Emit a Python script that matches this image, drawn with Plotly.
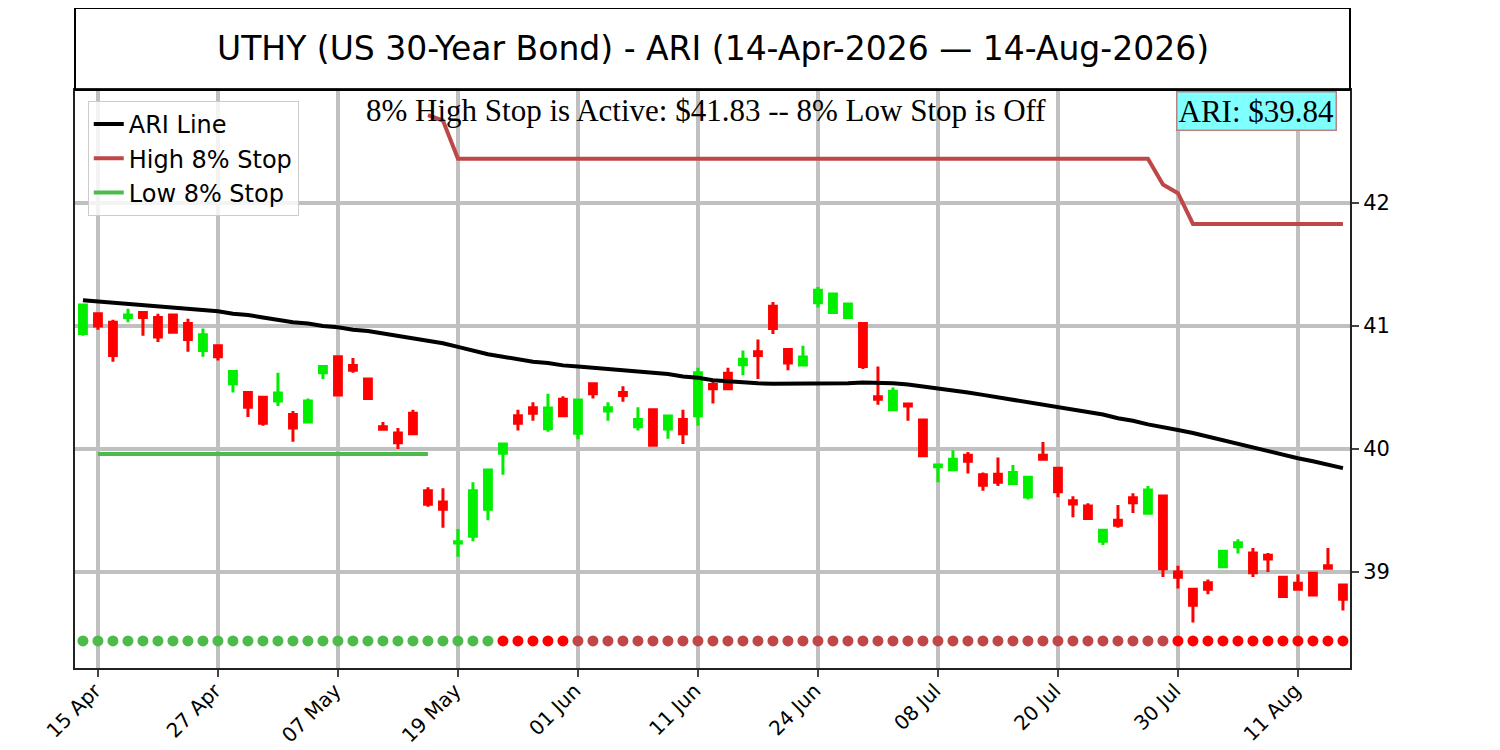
import pandas as pd
import plotly.graph_objects as go

# Trading days shown on the chart
dates = [
    "2026-04-14", "2026-04-15", "2026-04-16", "2026-04-17", "2026-04-20", "2026-04-21", "2026-04-22", "2026-04-23", "2026-04-24", "2026-04-27",
    "2026-04-28", "2026-04-29", "2026-04-30", "2026-05-01", "2026-05-04", "2026-05-05", "2026-05-06", "2026-05-07", "2026-05-08", "2026-05-11",
    "2026-05-12", "2026-05-13", "2026-05-14", "2026-05-15", "2026-05-18", "2026-05-19", "2026-05-20", "2026-05-21", "2026-05-22", "2026-05-26",
    "2026-05-27", "2026-05-28", "2026-05-29", "2026-06-01", "2026-06-02", "2026-06-03", "2026-06-04", "2026-06-05", "2026-06-08", "2026-06-09",
    "2026-06-10", "2026-06-11", "2026-06-12", "2026-06-15", "2026-06-16", "2026-06-17", "2026-06-18", "2026-06-22", "2026-06-23", "2026-06-24",
    "2026-06-25", "2026-06-26", "2026-06-29", "2026-06-30", "2026-07-01", "2026-07-06", "2026-07-07", "2026-07-08", "2026-07-09", "2026-07-10",
    "2026-07-13", "2026-07-14", "2026-07-15", "2026-07-16", "2026-07-17", "2026-07-20", "2026-07-21", "2026-07-22", "2026-07-23", "2026-07-24",
    "2026-07-27", "2026-07-28", "2026-07-29", "2026-07-30", "2026-07-31", "2026-08-03", "2026-08-04", "2026-08-05", "2026-08-06", "2026-08-07",
    "2026-08-10", "2026-08-11", "2026-08-12", "2026-08-13", "2026-08-14",
]

opens = [
    40.94, 41.10, 41.03, 41.07, 41.11, 41.07, 41.09, 41.02, 40.80, 40.84,
    40.53, 40.46, 40.42, 40.39, 40.28, 40.22, 40.62, 40.75, 40.68, 40.57,
    40.18, 40.13, 40.29, 39.66, 39.57, 39.235, 39.29, 39.51, 39.965, 40.27,
    40.335, 40.165, 40.405, 40.128, 40.53, 40.31, 40.46, 40.18, 40.32, 40.163,
    40.24, 40.27, 40.525, 40.615, 40.685, 40.79, 41.16, 40.81, 40.683, 41.19,
    41.11, 41.07, 41.02, 40.425, 40.32, 40.365, 40.236, 39.855, 39.832, 39.95,
    39.79, 39.795, 39.72, 39.61, 39.95, 39.843, 39.58, 39.537, 39.25, 39.42,
    39.604, 39.477, 39.618, 39.00, 38.86, 38.913, 39.043, 39.206, 39.154, 39.136,
    38.957, 38.908, 38.99, 39.05, 38.894,
]
closes = [
    41.17, 41.00, 40.76, 41.09, 41.07, 40.91, 40.95, 40.89, 40.93, 40.75,
    40.63, 40.34, 40.21, 40.455, 40.17, 40.39, 40.67, 40.44, 40.64, 40.41,
    40.16, 40.05, 40.125, 39.55, 39.51, 39.245, 39.66, 39.83, 40.04, 40.21,
    40.29, 40.333, 40.27, 40.398, 40.45, 40.335, 40.435, 40.24, 40.03, 40.268,
    40.125, 40.62, 40.49, 40.49, 40.73, 40.76, 40.98, 40.70, 40.748, 41.29,
    41.26, 41.18, 40.67, 40.405, 40.47, 40.35, 39.945, 39.87, 39.916, 39.90,
    39.705, 39.73, 39.81, 39.77, 39.916, 39.653, 39.553, 39.436, 39.34, 39.38,
    39.563, 39.667, 39.027, 38.957, 38.73, 38.86, 39.168, 39.238, 38.994, 39.106,
    38.80, 38.86, 38.813, 39.03, 38.778,
]
highs = [
    41.18, 41.11, 41.05, 41.14, 41.11, 41.10, 41.10, 41.06, 40.98, 40.84,
    40.63, 40.46, 40.42, 40.62, 40.31, 40.41, 40.68, 40.75, 40.74, 40.57,
    40.22, 40.17, 40.32, 39.69, 39.68, 39.35, 39.73, 39.83, 40.04, 40.32,
    40.38, 40.45, 40.43, 40.40, 40.53, 40.38, 40.51, 40.34, 40.325, 40.27,
    40.32, 40.66, 40.56, 40.66, 40.80, 40.89, 41.195, 40.81, 40.84, 41.317,
    41.27, 41.18, 41.02, 40.67, 40.50, 40.366, 40.236, 39.87, 39.99, 39.976,
    39.81, 39.93, 39.87, 39.77, 40.057, 39.843, 39.615, 39.56, 39.34, 39.545,
    39.64, 39.70, 39.62, 39.05, 38.86, 38.94, 39.17, 39.266, 39.195, 39.155,
    38.96, 38.98, 38.99, 39.195, 38.90,
]
lows = [
    40.92, 40.97, 40.71, 41.03, 40.92, 40.87, 40.95, 40.79, 40.75, 40.72,
    40.46, 40.26, 40.19, 40.35, 40.06, 40.22, 40.57, 40.44, 40.62, 40.40,
    40.15, 40.00, 40.125, 39.53, 39.36, 39.125, 39.25, 39.42, 39.79, 40.15,
    40.23, 40.14, 40.27, 40.08, 40.41, 40.23, 40.385, 40.15, 40.03, 40.084,
    40.04, 40.19, 40.37, 40.48, 40.60, 40.57, 40.935, 40.64, 40.683, 41.15,
    41.10, 41.07, 40.65, 40.36, 40.32, 40.23, 39.945, 39.73, 39.832, 39.80,
    39.66, 39.70, 39.72, 39.59, 39.915, 39.607, 39.445, 39.425, 39.22, 39.36,
    39.48, 39.477, 38.96, 38.865, 38.59, 38.82, 39.043, 39.15, 38.96, 39.00,
    38.80, 38.85, 38.80, 39.027, 38.686,
]

ari_line = [
    41.21, 41.20, 41.19, 41.18, 41.17, 41.16, 41.15, 41.14, 41.13, 41.12,
    41.10, 41.09, 41.07, 41.05, 41.03, 41.02, 41.00, 40.99, 40.97, 40.96,
    40.94, 40.92, 40.90, 40.88, 40.86, 40.83, 40.80, 40.77, 40.75, 40.73,
    40.71, 40.70, 40.68, 40.67, 40.66, 40.65, 40.64, 40.63, 40.62, 40.61,
    40.59, 40.58, 40.56, 40.55, 40.54, 40.535, 40.53, 40.53, 40.53, 40.53,
    40.53, 40.535, 40.54, 40.54, 40.535, 40.525, 40.51, 40.495, 40.48, 40.46,
    40.44, 40.42, 40.40, 40.38, 40.36, 40.34, 40.32, 40.30, 40.28, 40.25,
    40.23, 40.20, 40.18, 40.155, 40.13, 40.10, 40.07, 40.04, 40.01, 39.98,
    39.95, 39.925, 39.90, 39.87, 39.845,
]

high_stop = [
    None, None, None, None, None, None, None, None, None, None,
    None, None, None, None, None, None, None, None, None, None,
    None, None, None, 42.715, 42.67, 42.36, 42.36, 42.36, 42.36, 42.36,
    42.36, 42.36, 42.36, 42.36, 42.36, 42.36, 42.36, 42.36, 42.36, 42.36,
    42.36, 42.36, 42.36, 42.36, 42.36, 42.36, 42.36, 42.36, 42.36, 42.36,
    42.36, 42.36, 42.36, 42.36, 42.36, 42.36, 42.36, 42.36, 42.36, 42.36,
    42.36, 42.36, 42.36, 42.36, 42.36, 42.36, 42.36, 42.36, 42.36, 42.36,
    42.36, 42.36, 42.15, 42.08, 41.83, 41.83, 41.83, 41.83, 41.83, 41.83,
    41.83, 41.83, 41.83, 41.83, 41.83,
]
low_stop = [
    None, 39.96, 39.96, 39.96, 39.96, 39.96, 39.96, 39.96, 39.96, 39.96,
    39.96, 39.96, 39.96, 39.96, 39.96, 39.96, 39.96, 39.96, 39.96, 39.96,
    39.96, 39.96, 39.96, 39.96, None, None, None, None, None, None,
    None, None, None, None, None, None, None, None, None, None,
    None, None, None, None, None, None, None, None, None, None,
    None, None, None, None, None, None, None, None, None, None,
    None, None, None, None, None, None, None, None, None, None,
    None, None, None, None, None, None, None, None, None, None,
    None, None, None, None, None,
]

# signal state per day: L = low stop active, F = flip, H = high stop active
signal = [
    "L", "L", "L", "L", "L", "L", "L", "L", "L", "L",
    "L", "L", "L", "L", "L", "L", "L", "L", "L", "L",
    "L", "L", "L", "L", "L", "L", "L", "L", "F", "F",
    "F", "F", "F", "H", "H", "H", "H", "H", "H", "H",
    "H", "H", "H", "H", "H", "H", "H", "H", "H", "H",
    "H", "H", "H", "H", "H", "H", "H", "H", "H", "H",
    "H", "H", "H", "H", "H", "H", "H", "H", "H", "H",
    "H", "H", "H", "F", "F", "F", "F", "F", "F", "F",
    "F", "F", "F", "F", "F",
]
signal_level = 38.44

title_text = "UTHY (US 30-Year Bond) - ARI (14-Apr-2026 \u2014 14-Aug-2026)"
status_text = "8% High Stop is Active: $41.83 -- 8% Low Stop is Off"
ari_label = "ARI: $39.84"

STOP_RED = "#bf4747"
STOP_GREEN = "#4cbb4c"
signal_colors = {"L": STOP_GREEN, "F": "#ff0000", "H": STOP_RED}

# tick every 8 trading days starting at the second bar
tick_vals = dates[1::8]
tick_text = [pd.Timestamp(d).strftime("%d %b") for d in tick_vals]

fig = go.Figure()

fig.add_trace(go.Candlestick(
    x=dates, open=opens, high=highs, low=lows, close=closes,
    increasing=dict(line=dict(color="#00ee00", width=3), fillcolor="#00ee00"),
    decreasing=dict(line=dict(color="#ff0000", width=3), fillcolor="#ff0000"),
    showlegend=False))

fig.add_trace(go.Scatter(
    x=dates, y=ari_line, mode="lines", name="ARI Line",
    line=dict(color="black", width=4)))
fig.add_trace(go.Scatter(
    x=dates, y=high_stop, mode="lines", name="High 8% Stop",
    line=dict(color=STOP_RED, width=4)))
fig.add_trace(go.Scatter(
    x=dates, y=low_stop, mode="lines", name="Low 8% Stop",
    line=dict(color=STOP_GREEN, width=4)))

fig.add_trace(go.Scatter(
    x=dates, y=[signal_level] * len(dates), mode="markers", showlegend=False,
    marker=dict(size=11, color=[signal_colors[s] for s in signal])))

# the page body adds an 8px offset, so margins are trimmed on the left/top
fig.update_layout(
    width=1500, height=750,
    margin=dict(l=67, r=158, t=82, b=90, autoexpand=False),
    paper_bgcolor="white", plot_bgcolor="white",
    font=dict(family="DejaVu Sans", color="black"),
    boxgap=0.35,
    legend=dict(x=0.01, y=0.981, xanchor="left", yanchor="top",
                bgcolor="rgba(255,255,255,0.8)", bordercolor="#cccccc", borderwidth=1,
                font=dict(size=24), itemwidth=30),
    xaxis=dict(type="category", range=[-0.53, 84.47], rangeslider=dict(visible=False),
               automargin=False,
               tickmode="array", tickvals=tick_vals, ticktext=tick_text, tickangle=-45,
               tickfont=dict(size=20), ticks="outside", ticklen=7, tickwidth=2,
               ticklabelstandoff=-6, ticklabelshift=-3,
               showgrid=True, gridcolor="#c0c0c0", gridwidth=4,
               showline=True, linecolor="#222222", linewidth=2, mirror=True),
    yaxis=dict(side="right", range=[38.2195, 42.919], tickvals=[39, 40, 41, 42],
               automargin=False,
               tickfont=dict(size=21), ticks="outside", ticklen=7, tickwidth=2,
               showgrid=True, gridcolor="#c0c0c0", gridwidth=4, zeroline=False,
               showline=True, linecolor="#222222", linewidth=2, mirror=True),
)

# title box above the plot
fig.add_shape(type="rect", xref="paper", yref="paper", x0=0, x1=1, y0=1, y1=1.142,
              line=dict(color="black", width=2))
fig.add_annotation(text=title_text, xref="paper", yref="paper", x=0.5, y=1.071,
                   showarrow=False, font=dict(size=33, family="DejaVu Sans"),
                   xanchor="center", yanchor="middle")

fig.add_annotation(text=status_text, xref="paper", yref="paper", x=0.495, y=0.965,
                   showarrow=False, font=dict(size=31, family="Liberation Serif"),
                   xanchor="center", yanchor="middle")
fig.add_annotation(text=ari_label, xref="paper", yref="paper", x=0.927, y=0.963,
                   showarrow=False, font=dict(size=31, family="Liberation Serif"),
                   bgcolor="#80ffff", bordercolor="#c08080", borderwidth=1.5, borderpad=1,
                   xanchor="center", yanchor="middle")

fig.write_html("out.html")
